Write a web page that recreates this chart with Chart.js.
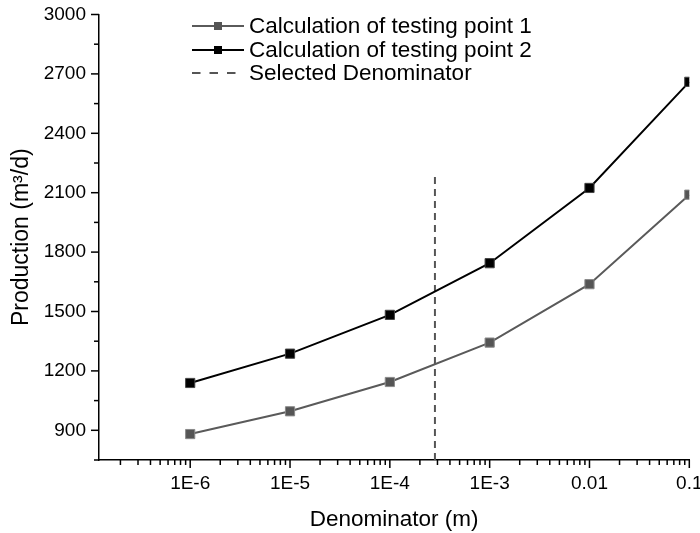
<!DOCTYPE html>
<html>
<head>
<meta charset="utf-8">
<script src="https://cdn.jsdelivr.net/npm/chart.js@4"></script>
<style>
  html, body { margin: 0; padding: 0; background: #fff; }
  #wrap { width: 700px; height: 533px; }
</style>
</head>
<body>
<div id="wrap"><canvas id="lineChart" width="700" height="533"></canvas></div>
<script>
// denominator values (m)
const denominators = [1e-6, 1e-5, 1e-4, 1e-3, 0.01, 0.1];
const denomLabels = ['1E-6', '1E-5', '1E-4', '1E-3', '0.01', '0.1'];
// production (m3/d)
const point1 = [881, 996, 1144, 1343, 1638, 2090];
const point2 = [1139, 1287, 1483, 1744, 2124, 2660];
// selected denominator marker
const selectedX = 2.83e-4;
const selectedY = [750, 2200];

const FONT = '"Liberation Sans", Arial, sans-serif';

// legend + axis tick marks drawn by hand
const decoPlugin = {
  id: 'deco',
  afterDraw(chart) {
    const ctx = chart.ctx;
    const xs = chart.scales.x, ys = chart.scales.y;
    ctx.save();
    ctx.strokeStyle = '#000';
    ctx.lineWidth = 1.5;
    // x ticks
    xs.ticks.forEach(t => {
      const px = xs.getPixelForValue(t.value);
      const major = denominators.includes(t.value);
      ctx.beginPath();
      ctx.moveTo(px, xs.top);
      ctx.lineTo(px, xs.top + (major ? 8 : 5));
      ctx.stroke();
    });
    // y ticks
    ys.ticks.forEach(t => {
      const py = ys.getPixelForValue(t.value);
      const major = t.value % 300 === 0;
      ctx.beginPath();
      ctx.moveTo(ys.right, py);
      ctx.lineTo(ys.right - (major ? 8 : 5), py);
      ctx.stroke();
    });
    // legend
    const items = chart.data.datasets;
    const x0 = 192, x1 = 244, tx = 249;
    const rows = [26, 50, 73];
    ctx.font = '22.5px ' + FONT;
    ctx.textBaseline = 'middle';
    items.forEach((ds, i) => {
      const y = rows[i];
      ctx.strokeStyle = ds.borderColor;
      ctx.lineWidth = 2;
      ctx.setLineDash(ds.borderDash ? [8.5, 9] : []);
      ctx.beginPath();
      ctx.moveTo(x0, y);
      ctx.lineTo(x1, y);
      ctx.stroke();
      ctx.setLineDash([]);
      if (ds.pointRadius > 0) {
        ctx.fillStyle = ds.pointBackgroundColor;
        ctx.fillRect((x0 + x1) / 2 - 4, y - 4, 8, 8);
      }
      ctx.fillStyle = '#000';
      ctx.fillText(ds.label, tx, y + 1);
    });
    ctx.restore();
  }
};

const ctx = document.getElementById('lineChart').getContext('2d');
new Chart(ctx, {
  type: 'line',
  data: {
    datasets: [{
      label: 'Calculation of testing point 1',
      data: denominators.map((d, i) => ({ x: d, y: point1[i] })),
      borderColor: '#5a5a5a',
      backgroundColor: '#5a5a5a',
      pointBackgroundColor: '#555555',
      pointBorderColor: '#8a8a8a',
      pointBorderWidth: 1,
      pointStyle: 'rect',
      pointRadius: 6.5,
      borderWidth: 2,
      tension: 0
    }, {
      label: 'Calculation of testing point 2',
      data: denominators.map((d, i) => ({ x: d, y: point2[i] })),
      borderColor: '#000000',
      backgroundColor: '#000000',
      pointBackgroundColor: '#000000',
      pointBorderColor: '#444444',
      pointBorderWidth: 1,
      pointStyle: 'rect',
      pointRadius: 6.5,
      borderWidth: 2,
      tension: 0
    }, {
      label: 'Selected Denominator',
      data: selectedY.map(v => ({ x: selectedX, y: v })),
      borderColor: '#555555',
      borderDash: [7, 5],
      borderWidth: 2,
      pointRadius: 0
    }]
  },
  options: {
    responsive: false,
    animation: false,
    layout: { padding: { top: 14.5, right: 10.7, left: 0, bottom: 0 } },
    plugins: { legend: { display: false }, tooltip: { enabled: false } },
    scales: {
      x: {
        type: 'logarithmic',
        min: 1.22e-7,
        max: 0.1,
        afterBuildTicks(scale) {
          const t = [];
          for (let e = -7; e <= -1; e++) {
            for (let m = 1; m <= 9; m++) {
              const v = Number((m * Math.pow(10, e)).toPrecision(3));
              if (v >= scale.min && v <= scale.max * 1.0001) t.push({ value: v });
              if (e === -1) break;
            }
          }
          scale.ticks = t;
        },
        afterFit(scale) { scale.height = 73; scale.paddingLeft = 0; scale.paddingRight = 0; },
        grid: { display: false },
        border: { display: true, color: '#000', width: 1.5 },
        ticks: {
          autoSkip: false,
          maxRotation: 0,
          padding: 4,
          color: '#000',
          font: { family: FONT, size: 19 },
          callback(v) {
            const i = denominators.indexOf(v);
            return i >= 0 ? denomLabels[i] : '';
          }
        },
        title: {
          display: true,
          text: 'Denominator (m)',
          color: '#000',
          font: { family: FONT, size: 22.5 },
          padding: { top: 0, bottom: 0 }
        }
      },
      y: {
        min: 750,
        max: 3000,
        afterFit(scale) { scale.width = 99; scale.paddingTop = 0; scale.paddingBottom = 0; },
        grid: { display: false },
        border: { display: true, color: '#000', width: 1.5 },
        ticks: {
          stepSize: 150,
          padding: 5,
          color: '#000',
          font: { family: FONT, size: 19 },
          callback(v) { return (v % 300 === 0) ? String(v) : ''; }
        },
        title: {
          display: true,
          text: 'Production (m³/d)',
          color: '#000',
          font: { family: FONT, size: 23 },
          padding: { top: 8, bottom: 0 }
        }
      }
    }
  },
  plugins: [decoPlugin]
});
</script>
</body>
</html>
